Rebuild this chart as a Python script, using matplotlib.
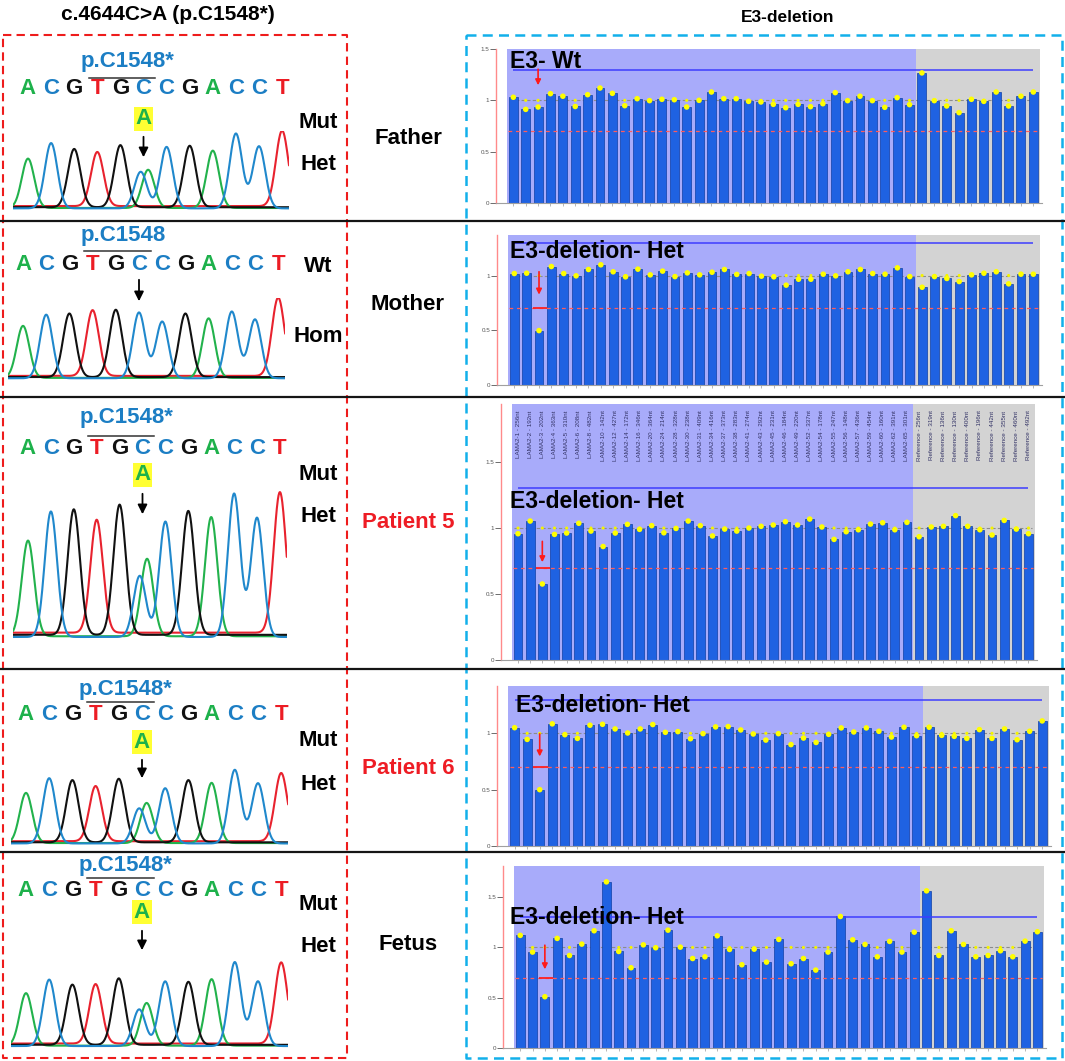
import numpy as np
import matplotlib
matplotlib.use('Agg')
import matplotlib.pyplot as plt

plt.rcParams['font.family'] = ['Liberation Sans', 'DejaVu Sans']

W, H = 1065, 1061

# ---------------- data ----------------
lama_probes = ["LAMA2-1 - 256nt", "LAMA2-2 - 192nt", "LAMA2-3 - 202nt", "LAMA2-4 - 363nt",
               "LAMA2-5 - 310nt", "LAMA2-6 - 208nt", "LAMA2-8 - 482nt", "LAMA2-10 - 142nt",
               "LAMA2-12 - 427nt", "LAMA2-14 - 172nt", "LAMA2-16 - 346nt", "LAMA2-20 - 364nt",
               "LAMA2-24 - 214nt", "LAMA2-28 - 328nt", "LAMA2-30 - 238nt", "LAMA2-31 - 409nt",
               "LAMA2-34 - 416nt", "LAMA2-37 - 373nt", "LAMA2-38 - 283nt", "LAMA2-41 - 274nt",
               "LAMA2-43 - 292nt", "LAMA2-45 - 231nt", "LAMA2-46 - 184nt", "LAMA2-49 - 220nt",
               "LAMA2-52 - 337nt", "LAMA2-54 - 178nt", "LAMA2-55 - 247nt", "LAMA2-56 - 148nt",
               "LAMA2-57 - 436nt", "LAMA2-59 - 454nt", "LAMA2-60 - 160nt", "LAMA2-62 - 391nt",
               "LAMA2-65 - 301nt"]
ref_probes = ["Reference - 256nt", "Reference - 319nt", "Reference - 136nt", "Reference - 130nt",
              "Reference - 400nt", "Reference - 196nt", "Reference - 442nt", "Reference - 355nt",
              "Reference - 460nt", "Reference - 492nt"]
probe_labels = lama_probes + ref_probes

father = [1.03, 0.912, 0.935, 1.065, 1.04, 0.94, 1.055, 1.12, 1.068, 0.948, 1.016, 0.997,
          1.01, 1.006, 0.935, 1.0, 1.081, 1.016, 1.016, 0.99, 0.984, 0.961, 0.928, 0.961,
          0.938, 0.967, 1.075, 0.997, 1.04, 0.997, 0.932, 1.026, 0.958,
          1.267, 0.997, 0.945, 0.88, 1.01, 0.99, 1.081, 0.945, 1.04, 1.081]
mother = [1.018, 1.021, 0.497, 1.082, 1.018, 0.997, 1.055, 1.098, 1.034, 0.988, 1.058, 1.006,
          1.04, 0.99, 1.024, 1.006, 1.03, 1.055, 1.01, 1.018, 0.994, 0.988, 0.912, 0.966,
          0.966, 1.012, 0.997, 1.034, 1.055, 1.018, 1.012, 1.07, 0.99,
          0.893, 0.99, 0.973, 0.945, 1.006, 1.021, 1.034, 0.924, 1.012, 1.012]
patient5 = [0.957, 1.053, 0.576, 0.952, 0.962, 1.036, 0.977, 0.86, 0.962, 1.028, 0.99, 1.018,
            0.964, 0.997, 1.053, 1.018, 0.94, 0.992, 0.977, 1.0, 1.013, 1.023, 1.048, 1.023,
            1.068, 1.008, 0.914, 0.972, 0.987, 1.03, 1.04, 0.987, 1.043,
            0.934, 1.008, 1.013, 1.094, 1.013, 0.987, 0.947, 1.058, 0.992, 0.957]
patient6 = [1.05, 0.946, 0.5, 1.084, 0.988, 0.955, 1.072, 1.08, 1.039, 1.003, 1.039, 1.078,
            1.009, 1.015, 0.952, 0.997, 1.057, 1.06, 1.03, 0.994, 0.94, 0.997, 0.9, 0.958,
            0.919, 0.991, 1.048, 1.012, 1.048, 1.018, 0.967, 1.054, 0.979,
            1.054, 0.982, 0.973, 0.955, 1.033, 0.955, 1.039, 0.943, 1.018, 1.11]
fetus = [1.12, 0.954, 0.51, 1.09, 0.92, 1.033, 1.166, 1.652, 0.96, 0.798, 1.026, 0.997,
         1.172, 1.003, 0.89, 0.907, 1.116, 0.98, 0.828, 0.983, 0.854, 1.08, 0.838, 0.89,
         0.775, 0.954, 1.308, 1.076, 1.03, 0.907, 1.06, 0.954, 1.152,
         1.563, 0.92, 1.166, 1.03, 0.907, 0.92, 0.967, 0.907, 1.063, 1.156]

# Sanger sequence and peak heights (relative intensity)
bases = list("ACGTGCCGACCT")
father_peaks = [155, 205, 183, 170, 195, 115, 193, 193, 180, 235, 195, 237]
father_alt = 120
mother_peaks = [166, 203, 203, 210, 215, 210, 181, 203, 190, 213, 188, 250]
mother_alt = 0
p5_peaks = [305, 400, 400, 360, 415, 195, 368, 395, 380, 457, 380, 448]
p5_alt = 247
p6_peaks = [150, 195, 186, 165, 190, 105, 165, 186, 180, 220, 180, 204]
p6_alt = 120
fetus_peaks = [150, 190, 172, 170, 190, 105, 185, 180, 190, 240, 185, 232]
fetus_alt = 122

row_names = ["Father", "Mother", "Patient 5", "Patient 6", "Fetus"]
cnv_titles = ["E3- Wt", "E3-deletion- Het", "E3-deletion- Het", "E3-deletion- Het", "E3-deletion- Het"]

# ---------------- figure ----------------
fig = plt.figure(figsize=(W / 100, H / 100), dpi=100)


def px_axes(x0, y0, x1, y1):
    return fig.add_axes([x0 / W, 1 - y1 / H, (x1 - x0) / W, (y1 - y0) / H])


ov = fig.add_axes([0, 0, 1, 1])
ov.set_xlim(0, W)
ov.set_ylim(H, 0)
ov.axis('off')
ov.set_zorder(20)

BASE_COL = {'A': '#1db14b', 'C': '#1c7ec4', 'G': '#111111', 'T': '#ec1c24'}
TRACE_COL = {'A': '#22b24c', 'C': '#2088cc', 'G': '#111111', 'T': '#e8222e'}
BASELINE = {'A': 2, 'C': 1, 'G': 4, 'T': 7}

# ----- titles -----
ov.text(168, 14, "c.4644C>A (p.C1548*)", ha='center', va='center', fontsize=15, fontweight='bold')
ov.text(788, 18, "E3-deletion", ha='center', va='center', fontsize=12.5, fontweight='bold')

# ----- boxes & separators -----
ov.plot([3, 347, 347, 3, 3], [35, 35, 1058, 1058, 35], color='#ee1c1c', lw=1.5,
        ls=(0, (4, 2.5)))
ov.plot([466, 1062, 1062, 466, 466], [35, 35, 1058, 1058, 35], color='#12b0ea', lw=1.8,
        ls=(0, (4, 2.5)))
for yy in [221, 397, 669, 852]:
    ov.plot([0, W], [yy, yy], color='#151515', lw=1.6)

# ----- chromatogram rows -----
chrom_rows = [
    dict(peaks=father_peaks, alt=father_alt, base0=28, sp=23.1, seq_y=88, pc_y=62, over_y=78,
         pc="p.C1548*", abox=119, arrow=(134, 160), r1=("Mut", 122), r2=("Het", 165),
         tb=211, tt=131),
    dict(peaks=mother_peaks, alt=mother_alt, base0=23, sp=23.2, seq_y=265, pc_y=235, over_y=251,
         pc="p.C1548", abox=None, arrow=(277, 304), r1=("Wt", 267), r2=("Hom", 337),
         tb=381, tt=298),
    dict(peaks=p5_peaks, alt=p5_alt, base0=28, sp=22.9, seq_y=448, pc_y=418, over_y=436,
         pc="p.C1548*", abox=475, arrow=(491, 517), r1=("Mut", 475), r2=("Het", 517),
         tb=642, tt=490),
    dict(peaks=p6_peaks, alt=p6_alt, base0=26, sp=23.2, seq_y=714, pc_y=690, over_y=702,
         pc="p.C1548*", abox=742, arrow=(757, 781), r1=("Mut", 741), r2=("Het", 785),
         tb=846, tt=768),
    dict(peaks=fetus_peaks, alt=fetus_alt, base0=26, sp=23.2, seq_y=890, pc_y=866, over_y=878,
         pc="p.C1548*", abox=912, arrow=(928, 953), r1=("Mut", 905), r2=("Het", 947),
         tb=1049, tt=960),
]

sigma = 0.27
xs = np.linspace(-0.65, 11.3, 800)
for r in chrom_rows:
    b0, sp = r['base0'], r['sp']
    ax = px_axes(b0 - 0.65 * sp, r['tt'], b0 + 11.3 * sp, r['tb'])
    maxh = max(max(r['peaks']), r['alt'])
    ax.set_xlim(-0.65, 11.3)
    ax.set_ylim(-0.03 * maxh, maxh * 1.03)
    ax.axis('off')
    het = r['alt'] > 0
    for ch in ['T', 'A', 'G', 'C']:
        sig = np.full_like(xs, BASELINE[ch] / 200 * maxh)
        for i, (b, h) in enumerate(zip(bases, r['peaks'])):
            if b == ch:
                pos = i - 0.12 if (het and i == 5) else i
                sig += h * np.exp(-(xs - pos) ** 2 / (2 * sigma ** 2))
        if ch == 'A' and het:
            sig += r['alt'] * np.exp(-(xs - 5.2) ** 2 / (2 * sigma ** 2))
        ax.plot(xs, sig, color=TRACE_COL[ch], lw=1.5, solid_capstyle='round')

    # sequence letters
    for i, b in enumerate(bases):
        ov.text(b0 + i * sp, r['seq_y'], b, ha='center', va='center', fontsize=16,
                fontweight='bold', color=BASE_COL[b])
    ov.plot([b0 + 2.62 * sp, b0 + 5.5 * sp], [r['over_y'], r['over_y']], color='#333333', lw=1.1)
    ov.text(b0 + 4.3 * sp, r['pc_y'], r['pc'], ha='center', va='center', fontsize=16,
            fontweight='bold', color='#1c7ec4')
    xm = b0 + 5 * sp
    if r['abox'] is not None:
        ov.text(xm, r['abox'], 'A', ha='center', va='center', fontsize=16, fontweight='bold',
                color='#1db14b', bbox=dict(facecolor='#ffff33', edgecolor='none', pad=1.2))
    ov.annotate('', xy=(xm, r['arrow'][1]), xytext=(xm, r['arrow'][0]),
                arrowprops=dict(arrowstyle='-|>', color='black', lw=1.3, mutation_scale=14))
    ov.text(318, r['r1'][1], r['r1'][0], ha='center', va='center', fontsize=16, fontweight='bold')
    ov.text(318, r['r2'][1], r['r2'][0], ha='center', va='center', fontsize=16, fontweight='bold')

# row labels
label_pos = [138, 304, 523, 768, 945]
label_col = ['black', 'black', '#ee1c24', '#ee1c24', 'black']
for name, yy, c in zip(row_names, label_pos, label_col):
    ov.text(408, yy, name, ha='center', va='center', fontsize=16, fontweight='bold', color=c)

# ----- CNV bar panels -----
panels = [
    dict(vals=father, spine=496, right=1042, y0=203, ytop=49, ymax=1.5, arrow=(1.33, 1.12),
         seg=False, labels=False, tx=510, ty=62),
    dict(vals=mother, spine=497, right=1042, y0=385, ytop=235, ymax=1.37, arrow=(1.06, 0.80),
         seg=True, labels=False, tx=510, ty=252),
    dict(vals=patient5, spine=501, right=1037, y0=660, ytop=404, ymax=1.94, arrow=(0.92, 0.72),
         seg=True, labels=True, tx=510, ty=502),
    dict(vals=patient6, spine=497, right=1051, y0=846, ytop=686, ymax=1.42, arrow=(1.02, 0.77),
         seg=True, labels=False, tx=516, ty=706),
    dict(vals=fetus, spine=503, right=1046, y0=1048, ytop=866, ymax=1.81, arrow=(1.05, 0.755),
         seg=True, labels=False, tx=510, ty=917),
]

n_lama = len(lama_probes)
for p, title in zip(panels, cnv_titles):
    vals = np.array(p['vals'])
    n = len(vals)
    x = np.arange(n)
    ax = px_axes(p['spine'], p['ytop'], p['right'], p['y0'])
    ax.set_xlim(-1.4, n - 0.3)
    ax.set_ylim(0, p['ymax'])
    ax.axvspan(-0.5, n_lama - 0.5, color='#a8abfa', zorder=0, lw=0)
    ax.axvspan(n_lama - 0.5, n - 0.45, color='#d3d3d3', zorder=0, lw=0)
    ax.hlines(1.0, -0.3, n - 0.7, colors='#8c8c8c', linestyles=(0, (3, 2)), lw=0.8, zorder=1)
    ax.scatter(x, np.ones(n), s=5, color='#f4f400', edgecolor='none', zorder=1.5)
    ax.bar(x, vals, width=0.72, color='#1f62e2', edgecolor='#0f3fa6', lw=0.5, zorder=2)
    ax.scatter(x, vals, s=16, color='#ffff00', edgecolor='none', zorder=4)
    ax.hlines(0.7, -0.4, n - 0.6, colors='#ff5c5c', linestyles=(0, (3, 3)), lw=0.9, zorder=3)
    ax.hlines(1.3, 0, n - 1, colors='#3d3dff', lw=1.1, zorder=3)
    if p['seg']:
        ax.hlines(0.7, 1.5, 2.65, colors='#ff2020', lw=1.3, zorder=3.5)
    ax.annotate('', xy=(2, p['arrow'][1]), xytext=(2, p['arrow'][0]),
                arrowprops=dict(arrowstyle='-|>', color='#ff1a1a', lw=1.2, mutation_scale=8),
                zorder=5)
    if p['labels']:
        for i, lbl in enumerate(probe_labels):
            ax.text(i, p['ymax'] - 0.05, lbl, rotation=90, ha='center', va='top',
                    fontsize=4.5, color='#333366', zorder=5)
    yt = [t for t in [0, 0.5, 1, 1.5] if t <= p['ymax'] + 1e-9]
    ax.set_yticks(yt)
    ax.set_yticklabels(['0' if t == 0 else ('1' if t == 1 else str(t)) for t in yt])
    ax.set_xticks(x)
    ax.set_xticklabels([])
    ax.tick_params(axis='y', labelsize=4.5, colors='#555555', length=4, width=0.6, pad=1)
    ax.tick_params(axis='x', length=2.5, width=0.5, colors='#999999')
    for s in ['top', 'right']:
        ax.spines[s].set_visible(False)
    ax.spines['left'].set_color('#ff8a8a')
    ax.spines['left'].set_linewidth(1.0)
    ax.spines['bottom'].set_color('#a0a0a0')
    ax.spines['bottom'].set_linewidth(0.8)
    ov.text(p['tx'], p['ty'], title, ha='left', va='center', fontsize=16.5, fontweight='bold')

fig.savefig('out.png', dpi=100)
